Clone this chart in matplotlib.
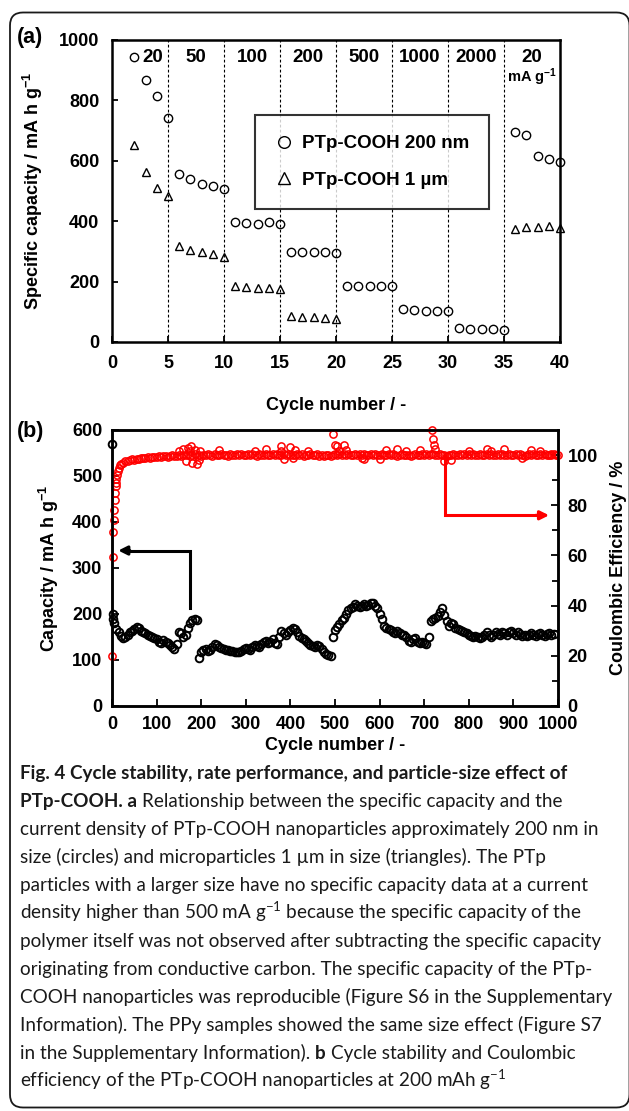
import numpy as np
import matplotlib
matplotlib.use("Agg")
import matplotlib.pyplot as plt
from matplotlib.patches import FancyBboxPatch

plt.rcParams['font.family'] = ['Liberation Sans', 'DejaVu Sans']
plt.rcParams['font.weight'] = 'bold'
plt.rcParams['axes.labelweight'] = 'bold'
plt.rcParams['mathtext.default'] = 'regular'

W, H = 629, 1111

# ---- (a) rate capability ----
rate_labels = ['20', '50', '100', '200', '500', '1000', '2000', '20']
cycles_per_rate = 5

cyc_nano = list(range(2, 41))
cap_nano = [943, 867, 814, 741,
            555, 539, 523, 516, 506,
            399, 393, 390, 396, 390,
            299, 297, 297, 297, 296,
            187, 184, 184, 184, 184,
            108, 105, 104, 101, 102,
            46, 43, 42, 42, 41,
            695, 684, 617, 607, 596]

cyc_micro = list(range(2, 21)) + list(range(36, 41))
cap_micro = [651, 564, 511, 482,
             319, 305, 298, 290, 283,
             185, 181, 179, 179, 176,
             86, 84, 82, 80, 77,
             374, 382, 381, 385, 377]

# ---- (b) long cycling at 200 mA g-1 ----
cyc_cap = [1, 2, 3] + list(range(5, 991, 5))
cap_long = [570, 200, 190,
            180, 168, 160, 152, 148, 150, 155, 160, 163, 167,   # 5-50
            172, 170, 163, 160, 158, 155, 152, 150, 147, 145,   # 55-100
            140, 138, 143, 140, 137, 133, 128, 124, 135, 160,   # 105-150
            158, 150, 155, 170, 180, 186, 190, 188, 104, 118,   # 155-200
            122, 124, 120, 122, 128, 135, 133, 128, 126, 124,   # 205-250
            122, 121, 120, 119, 118, 117, 118, 120, 123, 126,   # 255-300
            124, 122, 128, 133, 131, 128, 135, 140, 142, 138,   # 305-350
            140, 145, 138, 135, 150, 162, 158, 155, 160, 165,   # 355-400
            170, 168, 160, 152, 148, 145, 142, 138, 133, 130,   # 405-450
            128, 133, 130, 124, 117, 113, 110, 108, 150, 165,   # 455-500
            172, 178, 186, 192, 200, 208, 212, 215, 222, 218,   # 505-550
            215, 218, 222, 218, 220, 223, 225, 218, 212, 200,   # 555-600
            190, 175, 170, 168, 166, 160, 158, 162, 158, 155,   # 605-650
            154, 150, 142, 140, 145, 148, 140, 136, 140, 138,   # 655-700
            135, 150, 185, 190, 192, 195, 205, 212, 198, 185,   # 705-750
            175, 180, 178, 170, 168, 165, 163, 160, 158, 155,   # 755-800
            153, 150, 152, 150, 148, 151, 155, 160, 155, 150,   # 805-850
            155, 160, 157, 154, 160, 158, 155, 160, 162, 158,   # 855-900
            155, 160, 157, 153, 155, 152, 155, 158, 154, 152,   # 905-950
            156, 158, 155, 152, 156, 158, 155, 156]             # 955-990

cyc_ce = [1, 2, 3, 4, 5, 6, 7, 8, 9, 10, 12, 14, 16, 18, 20] + list(range(25, 1001, 5))
ce_long = [20.0, 59.5, 69.5, 74.0, 78.0, 82.0, 85.0, 87.5, 89.0, 90.5,
           92.0, 93.5, 95.0, 96.0, 96.5,
           97.0, 97.5, 97.8, 98.0, 98.3, 98.2, 98.6, 98.5, 98.9, 98.7,          # 25-70
           99.0, 99.2, 98.9, 99.3, 99.4, 99.2,                                  # 75-100
           99.5, 99.3, 99.6, 99.8, 99.4, 99.7, 100.0, 99.6, 99.8, 100.1,        # 105-150
           99.7, 100.2, 99.9, 100.3, 99.6, 100.0, 100.4, 99.8, 100.1, 99.7,     # 155-200
           100.2, 99.9, 100.3, 100.0, 99.8, 100.4, 100.1, 99.9, 100.3, 100.0,   # 205-250
           100.2, 99.8, 100.4, 100.1, 99.9, 100.3, 100.0, 100.5, 100.1, 99.9,   # 255-300
           100.3, 100.0, 100.4, 100.1, 99.8, 100.5, 100.2, 100.0, 100.4, 100.1, # 305-350
           99.9, 100.3, 100.0, 100.5, 100.2, 99.9, 100.4, 100.1, 100.3, 100.0,  # 355-400
           100.2, 99.9, 100.4, 100.1, 100.3, 99.8, 100.2, 100.0, 100.4, 99.9,   # 405-450
           100.1, 100.3, 99.7, 100.0, 99.6, 99.9, 100.2, 99.8, 100.1, 100.4,    # 455-500
           100.2, 100.5, 100.0, 100.3, 100.1, 100.4, 99.9, 100.2, 100.5, 100.1, # 505-550
           100.3, 100.0, 100.4, 100.2, 99.9, 100.3, 100.1, 100.4, 100.0, 100.2, # 555-600
           100.4, 100.1, 99.9, 100.3, 100.0, 100.4, 100.2, 99.8, 100.1, 100.3,  # 605-650
           99.9, 100.2, 100.0, 99.7, 100.1, 100.3, 99.9, 100.2, 100.4, 100.1,   # 655-700
           100.3, 100.0, 100.4, 100.6, 100.2, 100.0, 100.3, 99.9, 100.1, 99.8,  # 705-750
           100.2, 100.0, 100.3, 99.9, 100.2, 100.4, 100.0, 100.3, 100.1, 100.4, # 755-800
           100.0, 100.3, 100.1, 99.9, 100.4, 100.2, 100.0, 100.3, 100.1, 100.4, # 805-850
           100.2, 99.9, 100.3, 100.1, 100.4, 100.0, 100.2, 100.5, 100.1, 99.9,  # 855-900
           100.3, 100.0, 100.4, 100.2, 99.8, 100.1, 100.3, 100.0, 100.4, 100.2, # 905-950
           100.0, 100.3, 100.1, 100.4, 99.9, 100.2, 100.0, 100.3, 100.1, 99.9]  # 955-1000

# scattered CE points off the main band
cyc_ce_out = [150, 160, 165, 170, 175, 178, 180, 185, 190, 195, 197, 240, 320, 345,
              378, 380, 385, 400, 405, 410, 440, 495, 500, 505, 510, 520, 525, 560,
              565, 600, 615, 640, 660, 690, 718, 720, 722, 725, 745, 760, 800, 840,
              850, 880, 920, 940, 960, 985]
ce_out = [101.8, 102.5, 97.5, 103.0, 101.5, 103.5, 97.0, 102.0, 96.5, 98.0, 101.5,
          102.0, 101.8, 102.5, 103.8, 101.5, 98.5, 103.2, 99.0, 102.0, 101.5, 108.5,
          104.0, 103.5, 101.5, 104.0, 102.0, 99.0, 98.5, 98.5, 102.0, 102.5, 101.5,
          102.0, 110.0, 106.5, 104.0, 102.5, 97.5, 98.0, 101.8, 102.5, 101.7, 102.5,
          98.8, 102.0, 101.5, 100.5]

caption = [
    [("Fig. 4 Cycle stability, rate performance, and particle-size effect of", True)],
    [("PTp-COOH. a", True), ("Relationship between the specific capacity and the", False)],
    [("current density of PTp-COOH nanoparticles approximately 200 nm in", False)],
    [("size (circles) and microparticles 1 \u00b5m in size (triangles). The PTp", False)],
    [("particles with a larger size have no specific capacity data at a current", False)],
    [("density higher than 500 mA g$^{-1}$ because the specific capacity of the", False)],
    [("polymer itself was not observed after subtracting the specific capacity", False)],
    [("originating from conductive carbon. The specific capacity of the PTp-", False)],
    [("COOH nanoparticles was reproducible (Figure S6 in the Supplementary", False)],
    [("Information). The PPy samples showed the same size effect (Figure S7", False)],
    [("in the Supplementary Information).", False), ("b", True),
     ("Cycle stability and Coulombic", False)],
    [("efficiency of the PTp-COOH nanoparticles at 200 mAh g$^{-1}$", False)],
]


def fig_box(left, top, right, bottom):
    return [left / W, 1 - bottom / H, (right - left) / W, (bottom - top) / H]


def bold_ticks(a):
    for lab in a.get_xticklabels() + a.get_yticklabels():
        lab.set_fontweight('bold')


fig = plt.figure(figsize=(W / 100, H / 100), dpi=100)

# rounded frame around the figure + caption
frame = FancyBboxPatch((0.10, 0.035), 6.195, 10.95, boxstyle="round,pad=0,rounding_size=0.13",
                       transform=fig.dpi_scale_trans, fill=False, ec='#1a1a1a', lw=1.3)
fig.patches.append(frame)

tick_kw = dict(direction='in', width=1.3, labelsize=13)

# ---------------- panel (a) ----------------
ax = fig.add_axes(fig_box(112, 40, 560, 342))
ax.plot(cyc_nano, cap_nano, 'o', ms=6, mfc='none', mec='black', mew=1.0, clip_on=False,
        label='PTp-COOH 200 nm')
ax.plot(cyc_micro, cap_micro, '^', ms=6, mfc='none', mec='black', mew=1.0, clip_on=False,
        label='PTp-COOH 1 \u00b5m')
for i, lab in enumerate(rate_labels):
    if i > 0:
        ax.axvline(i * cycles_per_rate, color='black', lw=0.8, ls=(0, (2.5, 2)), zorder=0)
    ax.text((i + 0.5) * cycles_per_rate + (1.1 if i == 0 else 0), 943, lab,
            ha='center', va='center', fontsize=13.5)
ax.text((len(rate_labels) - 0.5) * cycles_per_rate, 877, 'mA g$^{-1}$',
        ha='center', va='center', fontsize=10.5)
ax.set_xlim(0, 40)
ax.set_ylim(0, 1000)
ax.set_xticks(range(0, 41, 5))
ax.set_yticks(range(0, 1001, 200))
ax.tick_params(**tick_kw, length=4, pad=9)
bold_ticks(ax)
ax.set_xlabel('Cycle number / -', fontsize=13, labelpad=18)
ax.set_ylabel('Specific capacity / mA h g$^{-1}$', fontsize=13, labelpad=10)
for s in ax.spines.values():
    s.set_linewidth(1.8)
leg = ax.legend(loc='center', bbox_to_anchor=(0.317, 0.447, 0.527, 0.298),
                frameon=True, fancybox=False, edgecolor='black', fontsize=13.5,
                handletextpad=0.45, handlelength=1.0, markerscale=1.4,
                borderpad=1.05, labelspacing=1.05)
leg.get_frame().set_linewidth(1.5)
fig.text(17 / W, 1 - 38 / H, '(a)', fontsize=15.5, va='center', ha='left')

# ---------------- panel (b) ----------------
axb = fig.add_axes(fig_box(112, 430, 558, 706))
axb.plot(cyc_cap, cap_long, 'o', ms=5.5, mfc='none', mec='black', mew=1.4, clip_on=False)
axb.set_xlim(0, 1000)
axb.set_ylim(0, 600)
axb.set_xticks(range(0, 1001, 100))
axb.set_yticks(range(0, 601, 100))
axb.tick_params(**tick_kw, length=5, pad=7)
axb.tick_params(axis='y', right=False)
bold_ticks(axb)
axb.set_xlabel('Cycle number / -', fontsize=13, labelpad=3)
axb.set_ylabel('Capacity / mA h g$^{-1}$', fontsize=13, labelpad=8)
for s in axb.spines.values():
    s.set_linewidth(1.8)

axr = axb.twinx()
axr.plot(cyc_ce, ce_long, 'o', ms=5.2, mfc='none', mec='#ff0000', mew=1.1, clip_on=False)
axr.plot(cyc_ce_out, ce_out, 'o', ms=5.2, mfc='none', mec='#ff0000', mew=1.1, clip_on=False)
axr.set_ylim(0, 110)
axr.set_yticks(range(0, 101, 20))
axr.set_yticks([10, 30, 50, 70, 90], minor=True)
axr.tick_params(**tick_kw, length=5, pad=7)
axr.tick_params(axis='y', which='minor', direction='in', length=4, width=1.3)
bold_ticks(axr)
axr.set_ylabel('Coulombic Efficiency / %', fontsize=13, rotation=90, labelpad=9)
for s in axr.spines.values():
    s.set_linewidth(1.8)

# guide arrows: black -> left axis, red -> right axis
axb.plot([176, 176, 30], [212, 338, 338], color='black', lw=2.2, solid_joinstyle='miter')
axb.annotate('', xy=(14, 338), xytext=(40, 338),
             arrowprops=dict(arrowstyle='-|>', color='black', lw=2.2,
                             mutation_scale=13, shrinkA=0, shrinkB=0))
axr.plot([747, 747, 960], [99.5, 76, 76], color='#ff0000', lw=2.2, solid_joinstyle='miter')
axr.annotate('', xy=(980, 76), xytext=(950, 76),
             arrowprops=dict(arrowstyle='-|>', color='#ff0000', lw=2.2,
                             mutation_scale=13, shrinkA=0, shrinkB=0))
fig.text(17 / W, 1 - 432 / H, '(b)', fontsize=15.5, va='center', ha='left')

# ---------------- caption ----------------
cap_family = ['Lato', 'DejaVu Sans']
renderer = fig.canvas.get_renderer()


def text_width(s, bold, size):
    t = fig.text(0, 0, s, family=cap_family, fontsize=size,
                 weight='bold' if bold else 'normal')
    w = t.get_window_extent(renderer).width
    t.remove()
    return w


# size the caption so its widest line spans the text block of the reference
widest = max(text_width(line[0][0], line[0][1], 11) for line in caption if len(line) == 1)
cap_size = 11 * 590 / widest
space_w = text_width('x x', False, cap_size) - text_width('xx', False, cap_size)

for i, line in enumerate(caption):
    x = 20
    y = 779 + 28 * i
    for seg, bold in line:
        t = fig.text(x / W, 1 - y / H, seg, family=cap_family, fontsize=cap_size,
                     weight='bold' if bold else 'normal', va='baseline', ha='left',
                     color='#1a1a1a')
        x += t.get_window_extent(renderer).width + space_w

fig.savefig('out.png', dpi=100)
